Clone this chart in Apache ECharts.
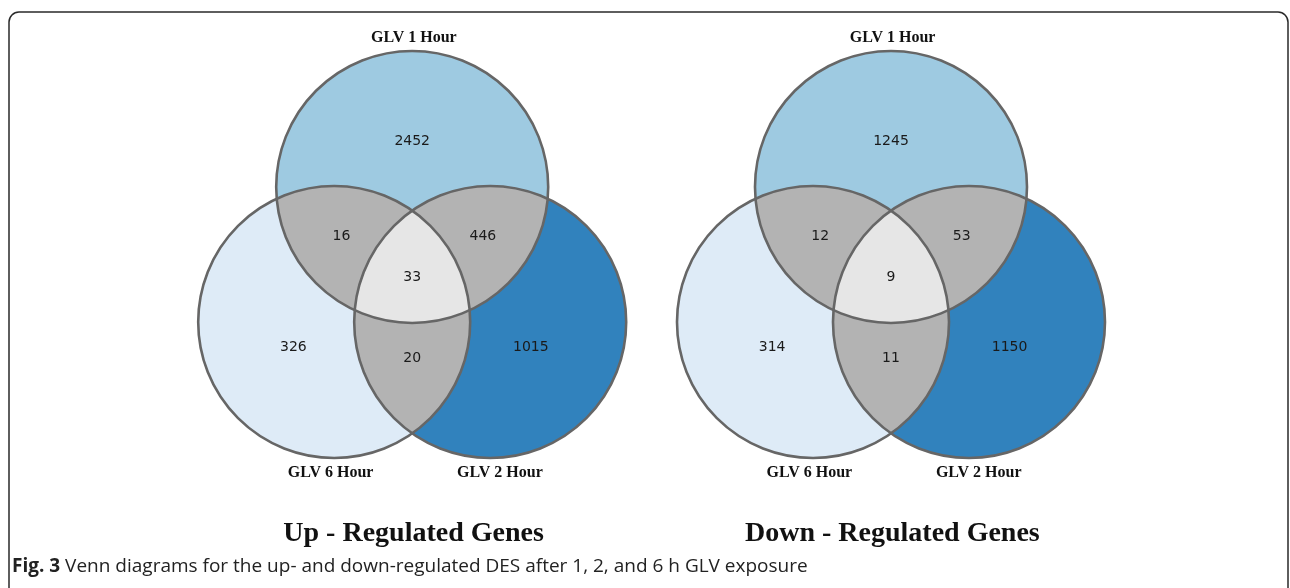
<!DOCTYPE html>
<html>
<head>
<meta charset="utf-8">
<script src="https://cdn.jsdelivr.net/npm/echarts@6/dist/echarts.min.js"></script>
<style>
html,body{margin:0;padding:0;background:#ffffff;}
#chart{width:1290px;height:588px;}
</style>
</head>
<body>
<div id="chart"></div>
<script>
// ---------------- data ----------------
const setNames = ['GLV 1 Hour', 'GLV 2 Hour', 'GLV 6 Hour'];
// region keys: membership in [GLV 1 Hour, GLV 2 Hour, GLV 6 Hour]
const regionKeys = ['100', '010', '001', '110', '101', '011', '111'];
const upRegulatedCounts = [2452, 1015, 326, 446, 16, 20, 33];
const downRegulatedCounts = [1245, 1150, 314, 53, 12, 11, 9];
const diagramTitles = ['Up - Regulated Genes', 'Down - Regulated Genes'];
const captionLead = 'Fig. 3';
const captionText = 'Venn diagrams for the up- and down-regulated DES after 1, 2, and 6 h GLV exposure';

// ---------------- layout (unit circle geometry) ----------------
const R = 1;
const S = 1.147; // distance between circle centers in radius units
const SQ3 = Math.sqrt(3);
const centers = [[0, S / SQ3], [S / 2, -S / (2 * SQ3)], [-S / 2, -S / (2 * SQ3)]];
const regionColors = {
  '100': '#9ecae1', '010': '#3182bd', '001': '#deebf7',
  '110': '#b3b3b3', '101': '#b3b3b3', '011': '#b3b3b3', '111': '#e6e6e6'
};
const labelPos = {
  '100': [0, 1.0], '010': [0.872, -0.517], '001': [-0.874, -0.517],
  '110': [0.52, 0.296], '101': [-0.52, 0.296], '011': [0, -0.598], '111': [0, 0]
};
const setLabelPos = [[0.012, 1.762], [0.645, -1.438], [-0.6, -1.438]];
const titlePos = [0.01, -1.885];

function intersections(i, j) {
  const P = centers[i], Q = centers[j];
  const dx = Q[0] - P[0], dy = Q[1] - P[1];
  const d = Math.hypot(dx, dy);
  const h = Math.sqrt(R * R - (d / 2) * (d / 2));
  const mx = P[0] + dx / 2, my = P[1] + dy / 2;
  const nx = -dy / d, ny = dx / d;
  return [[mx + h * nx, my + h * ny], [mx - h * nx, my - h * ny]];
}
function innerPoint(i, j) {
  const k = [0, 1, 2].find(t => t !== i && t !== j);
  const pts = intersections(i, j);
  const C = centers[k];
  const d0 = Math.hypot(pts[0][0] - C[0], pts[0][1] - C[1]);
  const d1 = Math.hypot(pts[1][0] - C[0], pts[1][1] - C[1]);
  return d0 < d1 ? pts[0] : pts[1];
}
function arc(c, from, to, n) {
  const C = centers[c];
  const a0 = Math.atan2(from[1] - C[1], from[0] - C[0]);
  const a1 = Math.atan2(to[1] - C[1], to[0] - C[0]);
  let da = a1 - a0;
  while (da > Math.PI) da -= 2 * Math.PI;
  while (da < -Math.PI) da += 2 * Math.PI;
  const out = [];
  for (let k = 0; k <= n; k++) {
    const a = a0 + da * k / n;
    out.push([C[0] + R * Math.cos(a), C[1] + R * Math.sin(a)]);
  }
  return out;
}
function regionPolygon(members) {
  if (members.length === 2) {
    const [i, j] = members;
    const [I1, I2] = intersections(i, j);
    return arc(i, I1, I2, 80).concat(arc(j, I2, I1, 80));
  }
  const X01 = innerPoint(0, 1), X02 = innerPoint(0, 2), X12 = innerPoint(1, 2);
  return arc(0, X01, X02, 60).concat(arc(2, X02, X12, 60)).concat(arc(1, X12, X01, 60));
}

const numberFont = { fontFamily: 'DejaVu Sans', fontSize: 14, fill: '#1a1a1a', align: 'center', verticalAlign: 'middle' };

function renderRegion(params, api) {
  const key = regionKeys[api.value(0)];
  const members = [];
  for (let t = 0; t < 3; t++) if (key[t] === '1') members.push(t);
  let shapeEl;
  if (members.length === 1) {
    const c = api.coord(centers[members[0]]);
    const rpx = api.size([R, R])[0];
    shapeEl = { type: 'circle', shape: { cx: c[0], cy: c[1], r: rpx }, style: { fill: regionColors[key] } };
  } else {
    const pts = regionPolygon(members).map(p => api.coord(p));
    shapeEl = { type: 'polygon', shape: { points: pts }, style: { fill: regionColors[key] } };
  }
  const lp = api.coord(labelPos[key]);
  return {
    type: 'group',
    children: [
      shapeEl,
      { type: 'text', z2: 50, x: lp[0], y: lp[1], style: Object.assign({ text: String(api.value(1)) }, numberFont) }
    ]
  };
}

function makeOutlineRenderer(title) {
  return function (params, api) {
    const i = api.value(0);
    const c = api.coord(centers[i]);
    const rpx = api.size([R, R])[0];
    const lp = api.coord(setLabelPos[i]);
    const children = [
      { type: 'circle', shape: { cx: c[0], cy: c[1], r: rpx }, style: { fill: 'none', stroke: '#666666', lineWidth: 2.6 } },
      { type: 'text', x: lp[0], y: lp[1], style: { text: setNames[i], fontFamily: 'Liberation Serif', fontWeight: 'bold', fontSize: 16, fill: '#111', align: 'center', verticalAlign: 'middle' } }
    ];
    if (i === 0) {
      const tp = api.coord(titlePos);
      children.push({ type: 'text', x: tp[0], y: tp[1], style: { text: title, fontFamily: 'Liberation Serif', fontWeight: 'bold', fontSize: 28, fill: '#111', align: 'center', verticalAlign: 'middle' } });
    }
    return { type: 'group', children: children };
  };
}

const diagrams = [upRegulatedCounts, downRegulatedCounts];
const gridLefts = [140.2, 619];

const chart = echarts.init(document.getElementById('chart'), null, { renderer: 'canvas' });
const option = {
  animation: false,
  backgroundColor: '#ffffff',
  grid: gridLefts.map(l => ({ left: l, top: 5, width: 544, height: 544 })),
  xAxis: gridLefts.map((l, g) => ({ type: 'value', gridIndex: g, min: -2, max: 2, show: false })),
  yAxis: gridLefts.map((l, g) => ({ type: 'value', gridIndex: g, min: -2, max: 2, show: false })),
  series: [].concat(
    diagrams.map((counts, g) => ({
      type: 'custom', name: diagramTitles[g], xAxisIndex: g, yAxisIndex: g, silent: true, z: 2,
      renderItem: renderRegion,
      encode: { x: -1, y: -1 },
      data: counts.map((v, i) => [i, v])
    })),
    diagrams.map((counts, g) => ({
      type: 'custom', name: diagramTitles[g] + ' outline', xAxisIndex: g, yAxisIndex: g, silent: true, z: 3,
      renderItem: makeOutlineRenderer(diagramTitles[g]),
      encode: { x: -1, y: -1 },
      data: setNames.map((n, i) => [i])
    }))
  ),
  graphic: [
    { type: 'rect', silent: true, shape: { x: 9, y: 12, width: 1279, height: 640, r: [10, 10, 0, 0] }, style: { fill: 'none', stroke: '#2a2a2a', lineWidth: 1.5 } },
    { type: 'text', silent: true, x: 12, y: 567,
      style: { text: '{b|' + captionLead + '} ' + captionText, fontFamily: 'Open Sans', fontSize: 19, fill: '#222', verticalAlign: 'middle',
        rich: { b: { fontFamily: 'Open Sans', fontWeight: 'bold', fontSize: 19, fill: '#222' } } } }
  ]
};
chart.setOption(option);
</script>
</body>
</html>
